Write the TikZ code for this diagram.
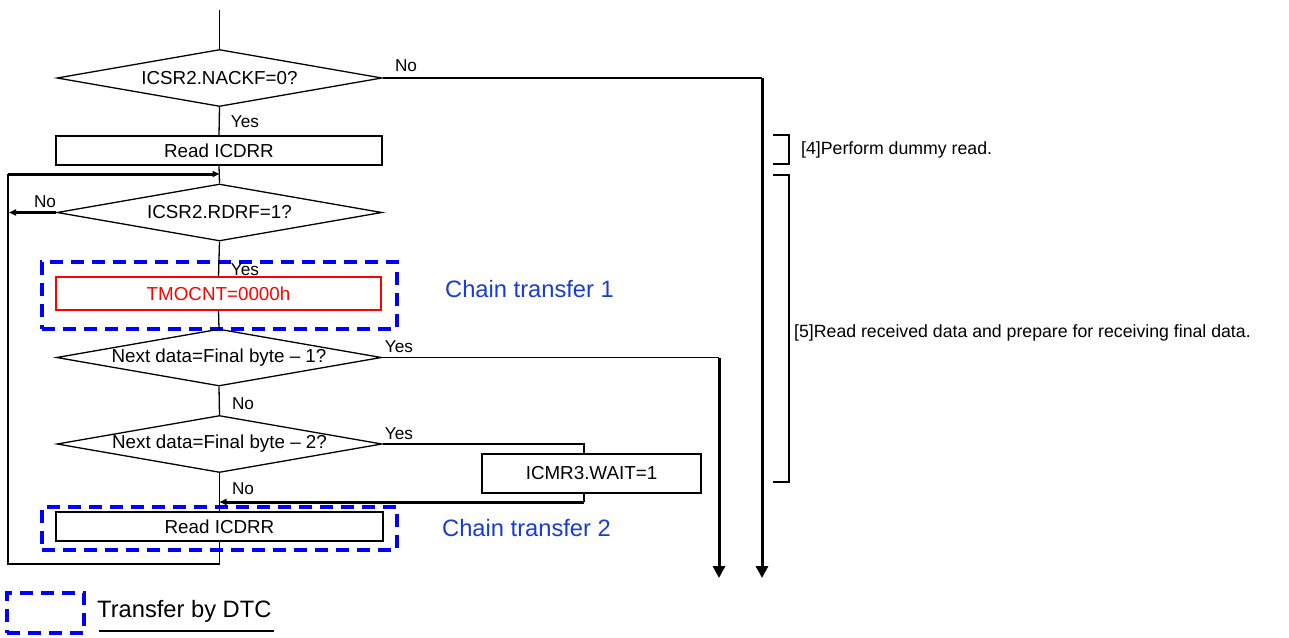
\documentclass[tikz,border=0pt]{standalone}
\usepackage{fontspec}
\setmainfont{Liberation Sans}
\usetikzlibrary{shapes.geometric,arrows.meta}
\definecolor{dtcblue}{RGB}{0,0,255}
\definecolor{txtblue}{RGB}{25,60,210}
\definecolor{tred}{RGB}{255,0,0}
\begin{document}
\begin{tikzpicture}[x=1pt,y=-1pt,
  thinln/.style={line width=1.3pt},
  thickln/.style={line width=3pt},
  decision/.style={diamond,draw,line width=1.3pt,aspect=5.6,inner sep=0pt,minimum width=325pt,minimum height=57pt,font=\fontsize{18.8}{20}\selectfont},
  procbox/.style={rectangle,draw,line width=1.3pt,inner sep=0pt,minimum height=29pt,font=\fontsize{18.8}{20}\selectfont},
  dtcbox/.style={rectangle,draw=dtcblue,line width=4pt,dash pattern=on 13pt off 8pt,inner sep=0pt},
  lbl/.style={font=\fontsize{17.2}{19}\selectfont,inner sep=0pt},
  chain/.style={font=\fontsize{23.7}{26}\selectfont,text=txtblue,anchor=west,inner sep=0pt},
  note/.style={font=\fontsize{17.7}{19}\selectfont,anchor=west,inner sep=0pt},
  bigarrow/.style={-{Triangle[length=12pt,width=12pt]}},
  smallarrow/.style={-{Triangle[length=7pt,width=6pt]}}
]
\useasboundingbox (0,0) rectangle (1289,637);

% dashed DTC boxes (drawn first)
\node[dtcbox,minimum width=355pt,minimum height=67pt] (dtc1) at (219.5,295.5) {};
\node[dtcbox,minimum width=355pt,minimum height=43pt] (dtc2) at (219.5,528.5) {};

% flow nodes
\coordinate (start) at (219.5,10);
\node[decision] (d1) at (219.5,78) {ICSR2.NACKF=0?};
\node[procbox,minimum width=326pt] (r1) at (219,150.5) {Read ICDRR};
\node[decision] (d2) at (219.5,212.5) {ICSR2.RDRF=1?};
\node[procbox,draw=tred,text=tred,minimum width=325pt,minimum height=33pt] (t) at (218.5,293.5) {TMOCNT=0000h};
\node[decision] (d3) at (219,357.5) {Next data=Final byte -- 1?};
\node[decision] (d4) at (219.5,444) {Next data=Final byte -- 2?};
\node[procbox,minimum width=219pt,minimum height=39pt] (wait) at (591.5,473.5) {ICMR3.WAIT=1};
\node[procbox,minimum width=327pt] (r2) at (219.5,526.5) {Read ICDRR};

% helper coordinates
\coordinate (loopin) at (219.5,174);
\coordinate (loopbl) at (8,564);
\coordinate (looptl) at (8,174);
\coordinate (mainbot) at (219.5,564);
\coordinate (nodest) at (9,212.5);
\coordinate (ncorner) at (762,78);
\coordinate (nend) at (762,578);
\coordinate (ycorner) at (719,357.5);
\coordinate (yend) at (719,578);
\coordinate (wtop) at (584,454);
\coordinate (wbot) at (584,493);
\coordinate (wturn) at (584,502);
\coordinate (wjoin) at (219.5,502);

% main line
\draw[thinln] (start) -- (d1.north);
\draw[thinln] (d1.south) -- (r1.north);
\draw[thinln] (r1.south) -- (d2.north);
\draw[thinln] (d2.south) -- (t.north);
\draw[thinln] (t.south) -- (d3.north);
\draw[thinln] (d3.south) -- (d4.north);
\draw[thinln] (d4.south) -- (r2.north);

% loop
\draw[thinln] (r2.south) -- (mainbot) -- (loopbl) -- (looptl);
\draw[thickln,smallarrow] (looptl) -- (loopin);
\draw[thickln,smallarrow] (d2.west) -- (nodest);

% No branch of d1
\draw[thinln] (d1.east) -- (ncorner);
\draw[thickln,bigarrow] (ncorner) -- (nend);

% Yes branch of d3
\draw[thinln] (d3.east) -- (ycorner);
\draw[thickln,bigarrow] (ycorner) -- (yend);

% Yes branch of d4 through WAIT
\draw[thinln] (d4.east) -| (wtop);
\draw[thinln] (wbot) -- (wturn);
\draw[thickln,smallarrow] (wturn) -- (wjoin);

% labels
\node[lbl] (l1) at (406,66) {No};
\node[lbl] (l2) at (245,122) {Yes};
\node[lbl] (l3) at (45,202) {No};
\node[lbl] (l4) at (245,270) {Yes};
\node[lbl] (l5) at (399,347) {Yes};
\node[lbl] (l6) at (243,404) {No};
\node[lbl] (l7) at (399,434) {Yes};
\node[lbl] (l8) at (243,489) {No};

% chain transfer labels
\node[chain] (c1) at (445,289) {Chain transfer 1};
\node[chain] (c2) at (442,528) {Chain transfer 2};

% legend
\node[dtcbox,minimum width=77pt,minimum height=40pt] (leg) at (45.5,613) {};
\node[chain,text=black] (legt) at (97,611) {Transfer by DTC};
\coordinate (ul1) at (99,631);
\coordinate (ul2) at (274,631);
\draw[thinln] (ul1) -- (ul2);

% right brackets
\draw[thinln] (773,135) -- (789,135) -- (789,164) -- (773,164);
\node[note] (n4) at (801,150) {[4]Perform dummy read.};
\draw[thinln] (773,175) -- (789,175) -- (789,482) -- (773,482);
\node[note] (n5) at (794,333) {[5]Read received data and prepare for receiving final data.};
\end{tikzpicture}
\end{document}
